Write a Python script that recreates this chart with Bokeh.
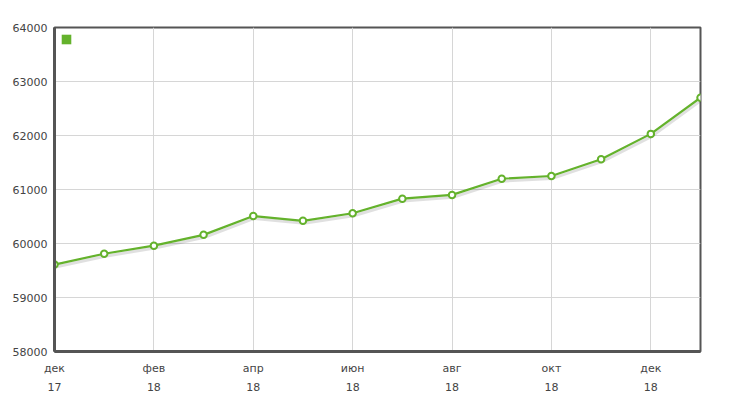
from bokeh.plotting import figure
from bokeh.models import (ColumnDataSource, FixedTicker, LinearAxis, Range1d,
                          Legend, LegendItem, Grid)
from bokeh.transform import dodge
from bokeh.core.properties import value
from bokeh.embed import file_html
from bokeh.resources import INLINE

months = ["дек", "янв", "фев", "мар", "апр", "май", "июн", "июл", "авг",
          "сен", "окт", "ноя", "дек", "янв"]
years = ["17", "18", "18", "18", "18", "18", "18", "18", "18", "18", "18",
         "18", "18", "19"]
values = [59610, 59810, 59960, 60160, 60510, 60420, 60560, 60830, 60900,
          61200, 61250, 61560, 62030, 62700]
y_ticks = [58000, 59000, 60000, 61000, 62000, 63000, 64000]
x_label_idx = [0, 2, 4, 6, 8, 10, 12]

GREEN = "#64b22c"
FONT = "DejaVu Sans"
TXT = "#444444"

idx = list(range(len(values)))
src = ColumnDataSource(dict(x=idx, y=values))

p = figure(width=744, height=400, output_backend="svg", toolbar_location=None,
           x_range=Range1d(0, len(values) - 1), y_range=Range1d(58000, 64000),
           x_axis_location=None, y_axis_location=None,
           min_border_left=54, min_border_right=44, min_border_top=27,
           min_border_bottom=49)
p.background_fill_color = "white"
p.border_fill_color = "white"
p.outline_line_color = "#555555"
p.outline_line_width = 2

# y axis
yax = LinearAxis(ticker=FixedTicker(ticks=y_ticks))
yax.axis_line_color = "#555555"
yax.axis_line_width = 3
yax.major_tick_line_color = None
yax.minor_tick_line_color = None
yax.major_label_text_font = FONT
yax.major_label_text_font_size = "11px"
yax.major_label_text_color = TXT
yax.major_label_standoff = 1
p.add_layout(yax, "left")

# x axis: months
xax = LinearAxis(ticker=FixedTicker(ticks=x_label_idx))
xax.major_label_overrides = {i: months[i] for i in x_label_idx}
xax.axis_line_color = "#555555"
xax.axis_line_width = 3
xax.major_tick_line_color = None
xax.minor_tick_line_color = None
xax.major_label_text_font = FONT
xax.major_label_text_font_size = "11px"
xax.major_label_text_color = TXT
xax.major_label_standoff = 4
p.add_layout(xax, "below")

# x axis: years
xax2 = LinearAxis(ticker=FixedTicker(ticks=x_label_idx))
xax2.major_label_overrides = {i: years[i] for i in x_label_idx}
xax2.axis_line_color = None
xax2.major_tick_line_color = None
xax2.minor_tick_line_color = None
xax2.major_label_text_font = FONT
xax2.major_label_text_font_size = "11px"
xax2.major_label_text_color = TXT
xax2.major_label_standoff = -1
p.add_layout(xax2, "below")

p.xgrid.visible = False
p.ygrid.visible = False
p.add_layout(Grid(dimension=0, ticker=xax.ticker, grid_line_color="#d6d6d6"))
p.add_layout(Grid(dimension=1, ticker=yax.ticker, grid_line_color="#d6d6d6"))

# shadow
p.line(x=dodge("x", 0.02, range=p.x_range), y=dodge("y", -45, range=p.y_range),
       source=src, line_color="#000000", line_alpha=0.12, line_width=3)
p.line("x", "y", source=src, line_color=GREEN, line_width=2.2)
p.scatter("x", "y", source=src, size=6.5, fill_color="white",
          line_color=GREEN, line_width=2)

# legend marker (series swatch, drawn only in the legend)
leg_r = p.quad(left=[-10], right=[-9], top=[0], bottom=[-1], fill_color=GREEN,
               line_color=None)
legend = Legend(items=[LegendItem(label=value(" "), renderers=[leg_r])],
                location="top_left", glyph_width=12, glyph_height=12,
                label_height=12, label_text_font_size="1px", padding=5,
                margin=6, border_line_color=None, background_fill_alpha=0,
                label_width=0, spacing=0, label_standoff=0)
p.add_layout(legend, "center")

open("out.html", "w").write(file_html(p, INLINE))
